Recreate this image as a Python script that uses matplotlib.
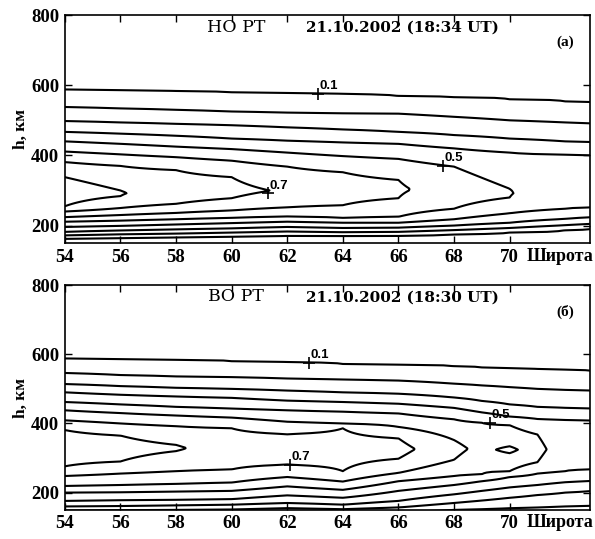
import numpy as np
import matplotlib.pyplot as plt

plt.rcParams['font.family'] = ['Liberation Serif', 'DejaVu Serif']

nan = np.nan
levels = [0.1, 0.2, 0.3, 0.4, 0.5, 0.6, 0.7, 0.8]

# --- (а) НО РТ, 21.10.2002 18:34 UT ---
# latitude columns, peak value / peak height, and heights (km) where each
# level is crossed on the bottom side and on the top side of the layer
lat_a = [54, 56, 58, 60, 62, 64, 66, 68, 70, 72, 73]
peak_a = [0.86, 0.805, 0.765, 0.727, 0.688, 0.645, 0.61, 0.565, 0.503, 0.47, 0.46]
hpeak_a = [297, 292, 295, 298, 300, 305, 305, 300, 292, 300, 300]
upper_a = [
    [588, 586, 583, 580, 578, 575, 569, 566, 560, 554, 552],   # 0.1
    [538, 534, 530, 525, 522, 520, 519, 510, 500, 494, 491],   # 0.2
    [498, 494, 490, 486, 480, 474, 467, 458, 448, 440, 438],   # 0.3
    [467, 462, 456, 448, 442, 437, 433, 420, 408, 402, 400],   # 0.4
    [440, 433, 425, 418, 408, 398, 390, 368, 305, nan, nan],   # 0.5
    [411, 403, 395, 385, 368, 352, 330, nan, nan, nan, nan],   # 0.6
    [381, 370, 358, 338, nan, nan, nan, nan, nan, nan, nan],   # 0.7
    [338, 300, nan, nan, nan, nan, nan, nan, nan, nan, nan],   # 0.8
]
lower_a = [
    [162, 164, 166, 168, 171, 170, 171, 175, 180, 187, 191],   # 0.1
    [172, 175, 177, 180, 183, 181, 182, 187, 193, 201, 205],   # 0.2
    [182, 186, 189, 192, 196, 193, 194, 200, 208, 219, 224],   # 0.3
    [196, 199, 203, 207, 211, 208, 208, 218, 235, 248, 252],   # 0.4
    [211, 214, 218, 222, 226, 222, 225, 248, 280, nan, nan],   # 0.5
    [224, 230, 236, 243, 252, 258, 278, nan, nan, nan, nan],   # 0.6
    [240, 250, 262, 278, nan, nan, nan, nan, nan, nan, nan],   # 0.7
    [255, 284, nan, nan, nan, nan, nan, nan, nan, nan, nan],   # 0.8
]

# --- (б) ВО РТ, 21.10.2002 18:30 UT ---
lat_b = [54, 56, 58, 60, 62, 64, 66, 68, 69, 70, 71, 72, 73]
peak_b = [0.87, 0.84, 0.81, 0.76, 0.74, 0.75, 0.73, 0.63, 0.57, 0.63, 0.53, 0.44, 0.44]
hpeak_b = [330, 330, 329, 325, 325, 325, 325, 328, 325, 324, 325, 325, 330]
upper_b = [
    [588, 586, 584, 580, 577, 572, 570, 565, 562, 560, 557, 555, 552],   # 0.1
    [546, 540, 536, 534, 530, 527, 524, 515, 510, 505, 500, 497, 495],   # 0.2
    [514, 508, 503, 500, 495, 490, 486, 475, 465, 455, 448, 445, 443],   # 0.3
    [490, 483, 478, 474, 466, 462, 457, 445, 432, 420, 413, 410, 409],   # 0.4
    [462, 455, 448, 443, 438, 434, 429, 412, 402, 395, 368, nan, nan],   # 0.5
    [438, 430, 423, 417, 405, 400, 390, 352, nan, 334, nan, nan, nan],   # 0.6
    [409, 400, 392, 386, 369, 386, 357, nan, nan, nan, nan, nan, nan],   # 0.7
    [381, 365, 338, nan, nan, nan, nan, nan, nan, nan, nan, nan, nan],   # 0.8
]
lower_b = [
    [140, 141, 141, 142, 143, 144, 145, 150, 152, 155, 157, 160, 162],   # 0.1
    [148, 149, 150, 151, 155, 152, 157, 170, 177, 185, 193, 200, 205],   # 0.2
    [160, 161, 163, 165, 170, 165, 176, 195, 205, 215, 222, 230, 234],   # 0.3
    [176, 178, 179, 181, 192, 185, 205, 222, 233, 245, 255, 262, 267],   # 0.4
    [200, 201, 203, 205, 218, 208, 233, 248, 253, 262, 288, nan, nan],   # 0.5
    [219, 222, 225, 229, 245, 232, 257, 295, nan, 314, nan, nan, nan],   # 0.6
    [248, 255, 262, 267, 281, 262, 298, nan, nan, nan, nan, nan, nan],   # 0.7
    [276, 290, 320, nan, nan, nan, nan, nan, nan, nan, nan, nan, nan],   # 0.8
]

# contour labels: (latitude, height, text)
labels_a = [(63.1, 576, '0.1'), (67.6, 371, '0.5'), (61.3, 292, '0.7')]
labels_b = [(62.8, 576, '0.1'), (69.3, 402, '0.5'), (62.1, 281, '0.7')]

h_grid = np.arange(120, 801, 2)


def build_field(peak, hpeak, upper, lower):
    cols = []
    for j in range(len(peak)):
        hs, vs = [120], [0.0]
        for k, lev in enumerate(levels):
            if not np.isnan(lower[k][j]):
                hs.append(lower[k][j]); vs.append(lev)
        hs.append(hpeak[j]); vs.append(peak[j])
        for k in reversed(range(len(levels))):
            if not np.isnan(upper[k][j]):
                hs.append(upper[k][j]); vs.append(levels[k])
        hs.append(800); vs.append(0.02)
        cols.append(np.interp(h_grid, hs, vs))
    return np.array(cols).T


fig = plt.figure(figsize=(5.95, 5.39), dpi=100)
ax1 = fig.add_axes([0.109, 0.549, 0.883, 0.423])
ax2 = fig.add_axes([0.109, 0.054, 0.883, 0.417])

panels = [
    (ax1, lat_a, peak_a, hpeak_a, upper_a, lower_a, labels_a,
     'НО РТ', '21.10.2002 (18:34 UT)', '(а)'),
    (ax2, lat_b, peak_b, hpeak_b, upper_b, lower_b, labels_b,
     'ВО РТ', '21.10.2002 (18:30 UT)', '(б)'),
]

for ax, lat, peak, hpeak, upper, lower, labs, name, date, tag in panels:
    Z = build_field(peak, hpeak, upper, lower)
    ax.contour(lat, h_grid, Z, levels=levels, colors='k', linewidths=1.5)
    for x, y, t in labs:
        ax.plot(x, y, '+', color='k', ms=8, mew=1.2)
        ax.text(x + 0.05, y + 4, t, fontsize=9.5, fontweight='bold',
                family='Liberation Sans', va='bottom', ha='left')
    ax.set_xlim(54, 72.9)
    ax.set_ylim(150, 800)
    ax.set_xticks(np.arange(54, 71, 2))
    ax.set_yticks([200, 400, 600, 800])
    ax.tick_params(direction='in', top=True, right=True, length=5, width=1,
                   labelsize=13.5, pad=4)
    for lb in ax.get_xticklabels() + ax.get_yticklabels():
        lb.set_fontweight('bold')
    for s in ax.spines.values():
        s.set_linewidth(1.2)
    ax.set_ylabel('h, км', fontsize=12.5, fontweight='bold', labelpad=2)
    ax.text(0.326, 0.928, name, transform=ax.transAxes, fontsize=12.5,
            family='DejaVu Serif', ha='center', va='baseline')
    ax.text(0.643, 0.928, date, transform=ax.transAxes, fontsize=11,
            family='DejaVu Serif', fontweight='bold', ha='center',
            va='baseline')
    ax.text(0.952, 0.88, tag, transform=ax.transAxes, fontsize=11,
            fontweight='bold', ha='center', va='center')
    ax.text(1.006, -0.058, 'Широта', transform=ax.transAxes, fontsize=13,
            fontweight='bold', ha='right', va='center')

fig.savefig('out.png', dpi=100)
